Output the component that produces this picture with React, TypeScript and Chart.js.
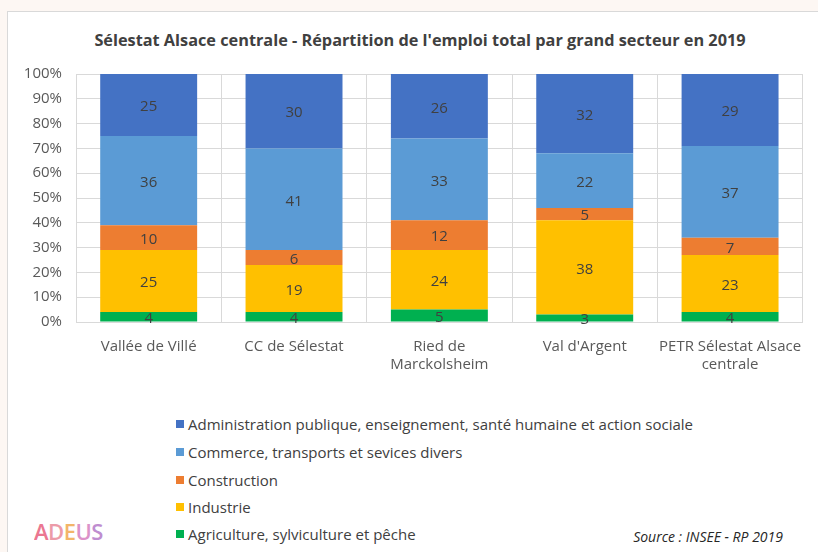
import React, { useEffect, useRef } from "react";
import { Chart, registerables } from "chart.js";

Chart.register(...registerables);

const TITLE = "Sélestat Alsace centrale - Répartition de l'emploi total par grand secteur en 2019";
const categories: (string | string[])[] = [
  "Vallée de Villé",
  "CC de Sélestat",
  ["Ried de", "Marckolsheim"],
  "Val d'Argent",
  ["PETR Sélestat Alsace", "centrale"],
];
const agriculture = [4, 4, 5, 3, 4];
const industrie = [25, 19, 24, 38, 23];
const construction = [10, 6, 12, 5, 7];
const commerce = [36, 41, 33, 22, 37];
const administration = [25, 30, 26, 32, 29];
const yTicks = [0, 10, 20, 30, 40, 50, 60, 70, 80, 90, 100];

const seriesNames = [
  "Agriculture, sylviculture et pêche",
  "Industrie",
  "Construction",
  "Commerce, transports et sevices divers",
  "Administration publique, enseignement, santé humaine et action sociale",
];
const seriesColors = ["#00B050", "#FFC000", "#ED7D31", "#5B9BD5", "#4472C4"];
const seriesData = [agriculture, industrie, construction, commerce, administration];

const FONT = "'Open Sans', sans-serif";

const valueLabels = {
  id: "valueLabels",
  afterDatasetsDraw(chart: any) {
    const ctx = chart.ctx;
    ctx.save();
    ctx.font = `15px ${FONT}`;
    ctx.fillStyle = "#404040";
    ctx.textAlign = "center";
    ctx.textBaseline = "middle";
    chart.data.datasets.forEach((ds: any, i: number) => {
      const meta = chart.getDatasetMeta(i);
      meta.data.forEach((el: any, j: number) => {
        const y = (el.y + el.base) / 2;
        ctx.fillText(String(ds.data[j]), el.x, y + 2);
      });
    });
    ctx.restore();
  },
};

export default function App() {
  const ref = useRef<HTMLCanvasElement | null>(null);
  useEffect(() => {
    if (!ref.current) return;
    const chart = new Chart(ref.current, {
      type: "bar",
      data: {
        labels: categories as any,
        datasets: seriesData.map((d, i) => ({
          label: seriesNames[i],
          data: d,
          backgroundColor: seriesColors[i],
          borderWidth: 0,
          categoryPercentage: 1,
          barPercentage: 0.667,
        })),
      },
      options: {
        animation: false,
        responsive: false,
        devicePixelRatio: 1,
        layout: { padding: { left: 0, right: 9, top: 74, bottom: 0 } },
        plugins: {
          legend: { display: false },
          tooltip: { enabled: false },
          title: { display: false },
        },
        scales: {
          x: {
            stacked: true,
            grid: { color: "#d9d9d9", lineWidth: 1, drawTicks: false },
            border: { display: true, color: "#d9d9d9" },
            ticks: { color: "#595959", font: { family: FONT, size: 15 }, padding: 16, maxRotation: 0 },
            afterFit: (s: any) => { s.height = 68; },
          },
          y: {
            stacked: true,
            min: 0,
            max: 100,
            afterBuildTicks: (s: any) => { s.ticks = yTicks.map((v) => ({ value: v })); },
            grid: { color: "#d9d9d9", lineWidth: 1, drawTicks: false },
            border: { display: true, color: "#d9d9d9" },
            ticks: {
              color: "#595959",
              font: { family: FONT, size: 15 },
              padding: 14,
              callback: (v: any) => `${v}%`,
            },
            afterFit: (s: any) => { s.width = 76; },
          },
        },
      },
      plugins: [valueLabels],
    });
    return () => chart.destroy();
  }, []);

  const legendOrder = [4, 3, 2, 1, 0];
  const legendY = [424, 452, 480, 507, 534];
  const adeus = [
    ["A", "#e8607e"],
    ["D", "#e98a9a"],
    ["E", "#f2a94e"],
    ["U", "#d77fc0"],
    ["S", "#b47ac8"],
  ];

  return (
    <div style={{ position: "absolute", left: 0, top: 0, width: 818, height: 552, background: "#fdf7f3", overflow: "hidden", fontFamily: FONT }}>
      <div style={{ position: "absolute", left: 7, top: 11, width: 820, height: 560, background: "#ffffff", border: "1px solid #d9d9d9", boxSizing: "border-box" }} />
      <div style={{ position: "absolute", left: 20, width: 800, top: 29, height: 22, lineHeight: "22px", textAlign: "center", fontSize: 16.3, fontWeight: 700, color: "#404040", whiteSpace: "nowrap" }}>
        {TITLE}
      </div>
      <canvas ref={ref} width={818} height={390} style={{ position: "absolute", left: 0, top: 0, width: 818, height: 390 }} />
      {legendOrder.map((si, k) => (
        <div key={si} style={{ position: "absolute", left: 176, top: legendY[k] - 10, height: 20, display: "flex", alignItems: "center", color: "#404040", fontSize: 15, whiteSpace: "nowrap" }}>
          <span style={{ display: "inline-block", width: 8, height: 8, background: seriesColors[si], marginRight: 4 }} />
          <span>{seriesNames[si]}</span>
        </div>
      ))}
      <div style={{ position: "absolute", right: 35, top: 527, height: 20, lineHeight: "20px", fontSize: 14, fontStyle: "italic", color: "#262626", whiteSpace: "nowrap" }}>
        Source : INSEE - RP 2019
      </div>
      <div style={{ position: "absolute", left: 34, top: 519, height: 24, lineHeight: "24px", fontSize: 22, fontFamily: "'Open Sans', sans-serif", fontWeight: 600, letterSpacing: -0.5 }}>
        {adeus.map(([ch, c]) => (
          <span key={ch} style={{ color: c, opacity: 0.85 }}>{ch}</span>
        ))}
      </div>
    </div>
  );
}
